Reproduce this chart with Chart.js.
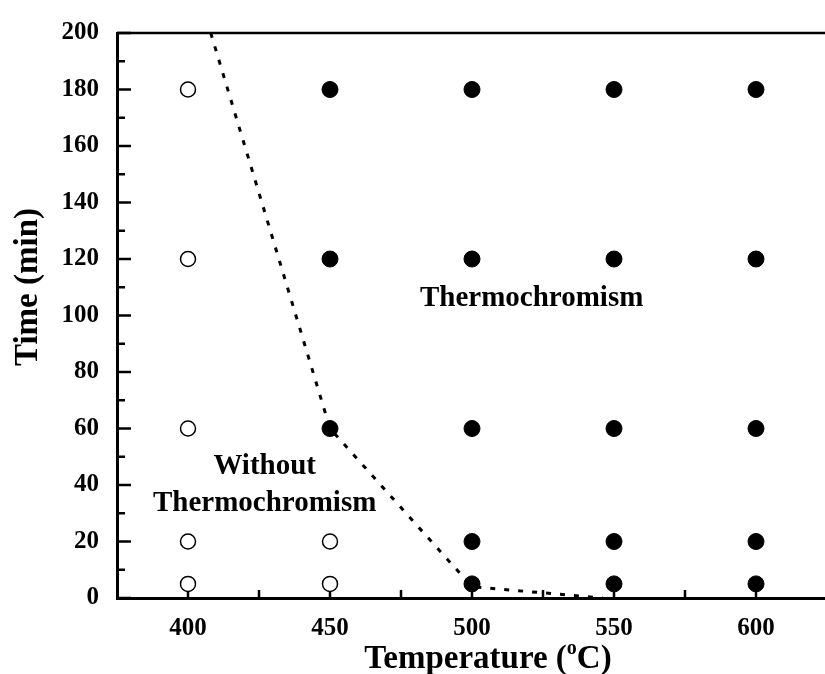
<!DOCTYPE html>
<html>
<head>
<meta charset="utf-8">
<script src="https://cdn.jsdelivr.net/npm/chart.js@4.4.1/dist/chart.umd.min.js"></script>
<style>
  html, body { margin: 0; padding: 0; background: #fff; overflow: hidden; }
  #wrap { width: 836px; height: 674px; }
</style>
</head>
<body>
<div id="wrap"><canvas id="c" width="836" height="674"></canvas></div>
<script>
// ---- data ----
const tempTicks = [400, 450, 500, 550, 600];
const tempMinorTicks = [425, 475, 525, 575];
const timeMinorTicks = [10, 30, 50, 70, 90, 110, 130, 150, 170, 190];

const openTemps = [400, 400, 400, 400, 400, 450, 450];
const openTimes = [5, 20, 60, 120, 180, 5, 20];

const filledTemps = [450, 450, 450, 500, 500, 500, 500, 500, 550, 550, 550, 550, 550, 600, 600, 600, 600, 600];
const filledTimes = [60, 120, 180, 5, 20, 60, 120, 180, 5, 20, 60, 120, 180, 5, 20, 60, 120, 180];

const boundaryTemps = [408, 450, 500, 546];
const boundaryTimes = [200, 60, 4, 0];

// x title pieces: main text, superscript, trailing text
const xTitleParts = ['Temperature (', 'o', 'C)'];
const yTitle = 'Time (min)';

const regionLabels = ['Thermochromism', 'Without', 'Thermochromism'];
const regionLabelTemps = [521, 427, 427];
const regionLabelTimes = [106, 46.5, 33.5];

const FONT = "'Liberation Serif', 'Times New Roman', serif";

const toPts = (xs, ys) => xs.map((x, i) => ({ x: x, y: ys[i] }));

const framePlugin = {
  id: 'frame',
  beforeDatasetsDraw(chart) {
    const { ctx, chartArea, scales } = chart;
    const xs = scales.x, ys = scales.y;
    ctx.save();
    ctx.strokeStyle = '#000';
    // top border
    ctx.lineWidth = 2.5;
    ctx.beginPath();
    ctx.moveTo(chartArea.left, chartArea.top);
    ctx.lineTo(chartArea.right + 5, chartArea.top);
    ctx.stroke();
    // inward ticks
    ctx.lineWidth = 2.5;
    const bottom = chartArea.bottom, left = chartArea.left;
    tempTicks.forEach(v => {
      const px = xs.getPixelForValue(v);
      ctx.beginPath(); ctx.moveTo(px, bottom); ctx.lineTo(px, bottom - 14); ctx.stroke();
    });
    tempMinorTicks.forEach(v => {
      const px = xs.getPixelForValue(v);
      ctx.beginPath(); ctx.moveTo(px, bottom); ctx.lineTo(px, bottom - 8); ctx.stroke();
    });
    ys.ticks.forEach(t => {
      const py = ys.getPixelForValue(t.value);
      ctx.beginPath(); ctx.moveTo(left, py); ctx.lineTo(left + 14, py); ctx.stroke();
    });
    timeMinorTicks.forEach(v => {
      const py = ys.getPixelForValue(v);
      ctx.beginPath(); ctx.moveTo(left, py); ctx.lineTo(left + 8, py); ctx.stroke();
    });
    ctx.restore();
  },
  afterDatasetsDraw(chart) {
    const { ctx, scales, chartArea } = chart;
    ctx.save();
    ctx.fillStyle = '#000';
    // region annotations
    ctx.font = "bold 29px " + FONT;
    ctx.textAlign = 'center';
    ctx.textBaseline = 'middle';
    regionLabels.forEach((t, i) => {
      ctx.fillText(t, scales.x.getPixelForValue(regionLabelTemps[i]), scales.y.getPixelForValue(regionLabelTimes[i]));
    });

    // x axis title with superscript
    const bigFont = "bold 33px " + FONT;
    const supFont = "bold 20px " + FONT;
    ctx.textAlign = 'left';
    ctx.textBaseline = 'alphabetic';
    ctx.font = bigFont;
    const w1 = ctx.measureText(xTitleParts[0]).width;
    const w3 = ctx.measureText(xTitleParts[2]).width;
    ctx.font = supFont;
    const w2 = ctx.measureText(xTitleParts[1]).width;
    const total = w1 + w2 + w3;
    const cx = (chartArea.left + chartArea.right) / 2 + 16;
    const base = chartArea.bottom + 70;
    let x0 = cx - total / 2;
    ctx.font = bigFont;
    ctx.fillText(xTitleParts[0], x0, base);
    ctx.font = supFont;
    ctx.fillText(xTitleParts[1], x0 + w1, base - 14);
    ctx.font = bigFont;
    ctx.fillText(xTitleParts[2], x0 + w1 + w2, base);

    // y axis title
    ctx.save();
    ctx.translate(37, chartArea.top + 254);
    ctx.rotate(-Math.PI / 2);
    ctx.font = bigFont;
    ctx.textAlign = 'center';
    ctx.textBaseline = 'alphabetic';
    ctx.fillText(yTitle, 0, 0);
    ctx.restore();

    ctx.restore();
  }
};

new Chart(document.getElementById('c'), {
  type: 'scatter',
  data: {
    datasets: [
      {
        label: 'Thermochromism',
        data: toPts(filledTemps, filledTimes),
        pointStyle: 'circle',
        pointRadius: 8,
        pointHoverRadius: 8,
        backgroundColor: '#000',
        borderColor: '#000',
        borderWidth: 1
      },
      {
        label: 'Without Thermochromism',
        data: toPts(openTemps, openTimes),
        pointStyle: 'circle',
        pointRadius: 7.5,
        pointHoverRadius: 7.5,
        backgroundColor: '#fff',
        borderColor: '#000',
        borderWidth: 1.5
      },
      {
        label: 'Boundary',
        data: toPts(boundaryTemps, boundaryTimes),
        showLine: true,
        pointRadius: 0,
        borderColor: '#000',
        borderWidth: 3,
        borderDash: [5, 9],
        fill: false,
        tension: 0
      }
    ]
  },
  options: {
    responsive: false,
    animation: false,
    layout: { padding: { top: 30, left: 0, right: 0, bottom: 0 } },
    plugins: {
      legend: { display: false },
      tooltip: { enabled: false }
    },
    scales: {
      x: {
        type: 'linear',
        min: 375,
        max: 625,
        afterBuildTicks(scale) { scale.ticks = tempTicks.map(v => ({ value: v })); },
        afterFit(scale) { scale.height = 76; },
        grid: { display: false, drawTicks: false },
        border: { display: true, color: '#000', width: 3 },
        ticks: {
          color: '#000',
          padding: 16,
          font: { family: FONT, size: 25, weight: 'bold' }
        },
        title: { display: false, text: xTitleParts.join('') }
      },
      y: {
        type: 'linear',
        min: 0,
        max: 200,
        afterFit(scale) { scale.width = 117; },
        grid: { display: false, drawTicks: false },
        border: { display: true, color: '#000', width: 3 },
        ticks: {
          stepSize: 20,
          color: '#000',
          padding: 18,
          font: { family: FONT, size: 25, weight: 'bold' }
        },
        title: { display: false, text: yTitle }
      }
    }
  },
  plugins: [framePlugin]
});
</script>
</body>
</html>
